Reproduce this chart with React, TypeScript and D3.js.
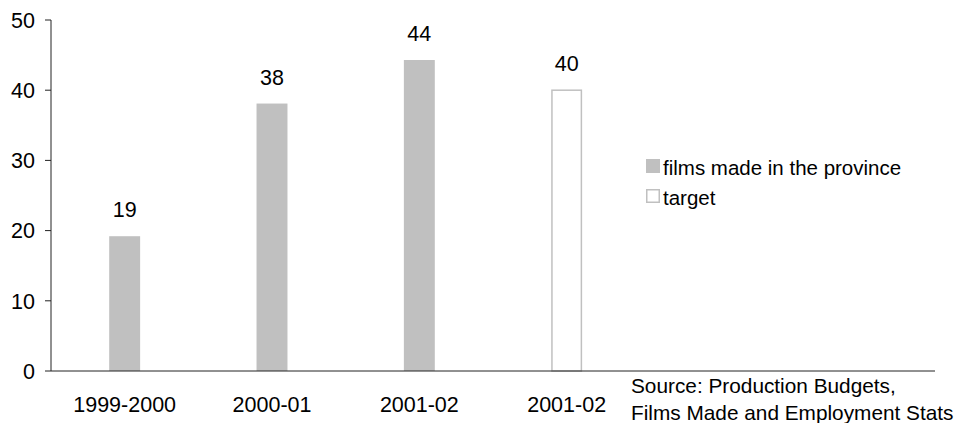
import { useEffect } from 'react';
import * as d3 from 'd3';

const categories = ['1999-2000', '2000-01', '2001-02'];
const filmsMade = [19.2, 38.1, 44.3];
const targetCategory = '2001-02';
const targetValue = [40];
const yTicks = [0, 10, 20, 30, 40, 50];
const legendLabels = ['films made in the province', 'target'];
const sourceLines = ['Source: Production Budgets,', 'Films Made and Employment Stats'];

const width = 961;
const height = 423;
const margin = { top: 20, right: 26, bottom: 52, left: 51 };
const font = '"Liberation Sans", Arial, sans-serif';
const barColor = '#c0c0c0';
const axisColor = '#222';
const textColor = '#000';

// six slots on the category axis, the last two stay empty
const slots = d3.range(6);
const slotLabels = [...categories, targetCategory, '', ''];

const App = () => {
  useEffect(() => {
    document.body.style.margin = '0';
  }, []);

  const x = d3.scaleBand<number>()
    .domain(slots)
    .range([margin.left, width - margin.right])
    .paddingInner(0.79)
    .paddingOuter(0.395);

  const y = d3.scaleLinear()
    .domain([0, 50])
    .range([height - margin.bottom, margin.top]);

  const fmt = d3.format('.0f');
  const y0 = y(0);
  const bw = x.bandwidth();
  const targetSlot = categories.length;

  return (
    <svg width={width} height={height} style={{ display: 'block', fontFamily: font }}>
      {/* bars */}
      {filmsMade.map((v, i) => (
        <g key={i}>
          <rect x={x(i)} y={y(v)} width={bw} height={y0 - y(v)} fill={barColor} />
          <text x={(x(i) || 0) + bw / 2} y={y(v) - 19} textAnchor="middle" fontSize={21.5} fill={textColor}>
            {fmt(v)}
          </text>
        </g>
      ))}
      {targetValue.map((v, i) => (
        <g key={'t' + i}>
          <rect x={(x(targetSlot) || 0) + 0.75} y={y(v)} width={bw - 1.5} height={y0 - y(v)}
            fill="#fff" stroke={barColor} strokeWidth={1.5} />
          <text x={(x(targetSlot) || 0) + bw / 2} y={y(v) - 19} textAnchor="middle" fontSize={21.5} fill={textColor}>
            {fmt(v)}
          </text>
        </g>
      ))}

      {/* y axis */}
      <line x1={margin.left} x2={margin.left} y1={y(50)} y2={y0} stroke={axisColor} strokeWidth={1} />
      {yTicks.map(t => (
        <g key={t}>
          <line x1={margin.left - 6} x2={margin.left} y1={y(t)} y2={y(t)} stroke={axisColor} />
          <text x={margin.left - 16} y={y(t)} dy="0.36em" textAnchor="end" fontSize={21.5} fill={textColor}>{t}</text>
        </g>
      ))}

      {/* x axis */}
      <line x1={margin.left} x2={width - margin.right} y1={y0} y2={y0} stroke={axisColor} strokeWidth={1} />
      {slots.map(s => (
        <text key={s} x={(x(s) || 0) + bw / 2} y={411.5} textAnchor="middle" fontSize={21.5} fill={textColor}>
          {slotLabels[s]}
        </text>
      ))}

      {/* legend */}
      <rect x={646} y={159} width={14} height={14} fill={barColor} />
      <text x={663} y={175} fontSize={20.5} fill={textColor}>{legendLabels[0]}</text>
      <rect x={646.75} y={189.75} width={12.5} height={12.5} fill="#fff" stroke={barColor} strokeWidth={1.5} />
      <text x={663} y={205} fontSize={20.5} fill={textColor}>{legendLabels[1]}</text>

      {/* source note */}
      {sourceLines.map((l, i) => (
        <text key={i} x={631} y={393 + i * 26.5} fontSize={20.8} fill={textColor}>{l}</text>
      ))}
    </svg>
  );
};

export default App;
